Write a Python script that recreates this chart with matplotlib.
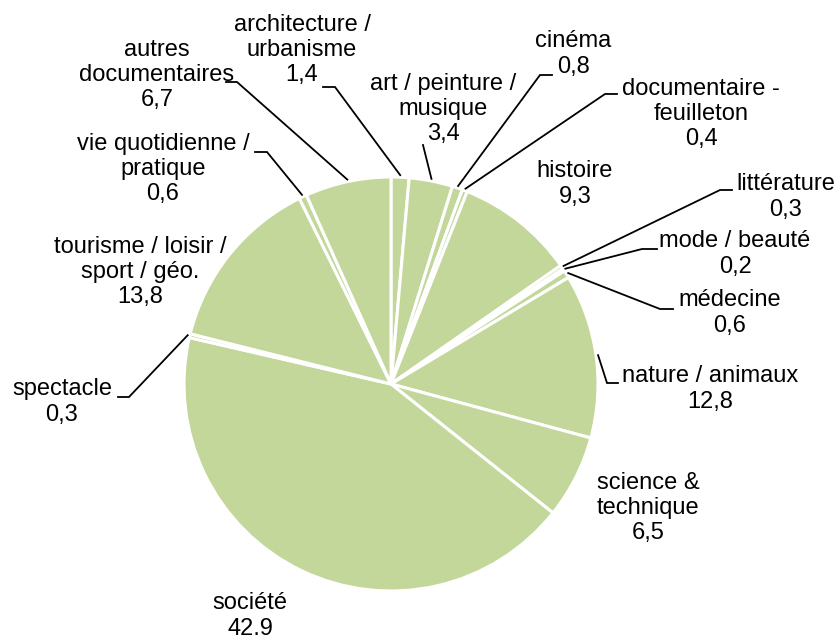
import numpy as np
import matplotlib
matplotlib.use("Agg")
import matplotlib.pyplot as plt

plt.rcParams['font.family'] = ['Liberation Sans', 'DejaVu Sans']

# Genres, in clockwise order from 12 o'clock
categories = [
    "architecture /\nurbanisme",
    "art / peinture /\nmusique",
    "cinéma",
    "documentaire -\nfeuilleton",
    "histoire",
    "littérature",
    "mode / beauté",
    "médecine",
    "nature / animaux",
    "science &\ntechnique",
    "société",
    "spectacle",
    "tourisme / loisir /\nsport / géo.",
    "vie quotidienne /\npratique",
    "autres\ndocumentaires",
]
values = [1.4, 3.4, 0.8, 0.4, 9.3, 0.3, 0.2, 0.6, 12.8, 6.5, 42.9, 0.3, 13.8, 0.6, 6.7]

W, H = 839, 635
GREEN = "#c4d79b"

# Label layout in pixel units from the top-left corner:
# (text centre x, text centre y, elbow x, elbow y, horizontal stub end x) or None
label_layout = [
    (302, 50, 335, 87, 323),
    (443, 109, 423, 145, 423),
    (573, 54, 540, 75, 552),
    (701, 114, 605, 94, 617),
    (575, 184, None, None, None),
    (786, 197, 720, 190, 732),
    (735, 254, 642, 249, 657),
    (730, 313, 660, 309, 673),
    (710, 389, 607, 383, 618),
    (648, 508, None, None, None),
    (250, 616, None, None, None),
    (62, 402, 129, 397, 118),
    (140, 272, None, None, None),
    (163, 169, 267, 152, 255),
    (157, 75, 237, 82, 226),
]


def px(x, y):
    return x, H - y


fig = plt.figure(figsize=(W / 100, H / 100), dpi=100)
ax = fig.add_axes([0, 0, 1, 1])

cx, cy = px(391, 384)
radius = 207
wedges, _ = ax.pie(values, startangle=90, counterclock=False,
                   colors=[GREEN] * len(values), center=(cx, cy), radius=radius,
                   wedgeprops=dict(edgecolor='white', linewidth=2.2),
                   frame=True)
ax.set_xlim(0, W)
ax.set_ylim(0, H)
ax.set_aspect('equal')
ax.axis('off')

for w, name, val, lay in zip(wedges, categories, values, label_layout):
    tx, ty, ex, ey, sx = lay
    text = name + "\n" + f"{val:.1f}".replace('.', ',')
    ax.text(*px(tx, ty), text, ha='center', va='center', fontsize=17,
            linespacing=1.2, color='black')
    if ex is not None:
        ang = np.deg2rad((w.theta1 + w.theta2) / 2)
        r0 = radius * 1.01
        p0 = (cx + r0 * np.cos(ang), cy + r0 * np.sin(ang))
        e = px(ex, ey)
        s = px(sx, ey)
        ax.plot([p0[0], e[0], s[0]], [p0[1], e[1], s[1]], color='black',
                lw=1.3, solid_joinstyle='miter')

fig.savefig("out.png", dpi=100)
